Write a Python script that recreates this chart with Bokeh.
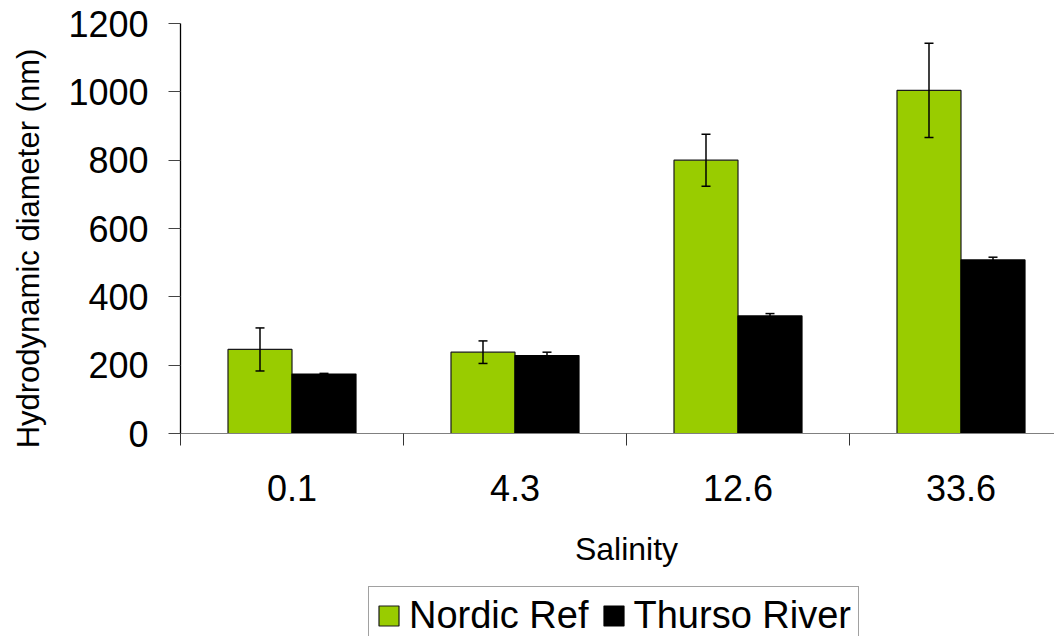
from bokeh.plotting import figure
from bokeh.models import (Range1d, FixedTicker, Legend, LegendItem, Whisker,
                          ColumnDataSource, TeeHead, Label)
from bokeh.embed import file_html
from bokeh.resources import INLINE
import numpy as np

salinity = ["0.1", "4.3", "12.6", "33.6"]
nordic_ref = [246, 238, 800, 1004]
nordic_err = [63, 33, 76, 138]
thurso_river = [174, 228, 344, 508]
thurso_err = [2, 10, 7, 8]
y_ticks = [0, 200, 400, 600, 800, 1000, 1200]

FONT = "Liberation Sans"
GREEN = "#99CC00"

centers = np.arange(len(salinity)) + 0.5
bw = 0.287

# ---- layout (pixels) ----
W, H = 1054, 636
OFF = 0                       # page offset of the canvas
AX_LEFT, AX_TOP, AX_BOTTOM = 180, 23, 433   # page px of plot area
CAT_PX = 223                  # pixels per category
Y_MAX = 1200
py = (AX_BOTTOM - AX_TOP) / Y_MAX            # px per data unit

x_start = -(AX_LEFT - OFF) / CAT_PX
x_end = x_start + W / CAT_PX
y_end = Y_MAX + (AX_TOP - OFF) / py
y_start = -((OFF + H) - AX_BOTTOM) / py

p = figure(width=W, height=H, output_backend="svg", toolbar_location=None,
           x_range=Range1d(x_start, x_end), y_range=Range1d(y_start, y_end),
           min_border_left=0, min_border_right=0, min_border_top=0,
           min_border_bottom=0)
p.outline_line_color = None
p.xgrid.visible = False
p.ygrid.visible = False
p.background_fill_color = "white"
p.border_fill_color = "white"

src_n = ColumnDataSource(dict(x=centers - bw / 2, top=nordic_ref,
                              upper=np.array(nordic_ref) + np.array(nordic_err),
                              lower=np.array(nordic_ref) - np.array(nordic_err)))
src_t = ColumnDataSource(dict(x=centers + bw / 2, top=thurso_river,
                              upper=np.array(thurso_river) + np.array(thurso_err),
                              lower=np.array(thurso_river) - np.array(thurso_err)))

r_n = p.vbar(x="x", top="top", bottom=0, width=bw, source=src_n,
             fill_color=GREEN, line_color="#1a1a1a", line_width=1.2)
r_t = p.vbar(x="x", top="top", bottom=0, width=bw, source=src_t,
             fill_color="black", line_color="black", line_width=1.2)

for src in (src_n, src_t):
    w = Whisker(source=src, base="x", upper="upper", lower="lower",
                line_color="black", line_width=1.5, level="annotation",
                upper_head=TeeHead(size=9, line_width=1.5, line_color="black"),
                lower_head=TeeHead(size=9, line_width=1.5, line_color="black"))
    p.add_layout(w)

# x axis (drawn at y = 0)
xa = p.xaxis[0]
xa.fixed_location = 0
xa.bounds = (0, x_end)
xa.ticker = FixedTicker(ticks=list(centers),
                        minor_ticks=list(np.arange(len(salinity) + 1)))
xa.major_label_overrides = {float(c): s for c, s in zip(centers, salinity)}
xa.major_tick_out = 0
xa.major_tick_in = 0
xa.minor_tick_out = 12
xa.minor_tick_in = 0
xa.minor_tick_line_color = "#333333"
xa.axis_line_color = "#808080"
xa.axis_line_width = 1.2
xa.major_label_text_font = FONT
xa.major_label_text_font_size = "36px"
xa.major_label_text_color = "black"
xa.major_label_standoff = 29

# y axis (drawn at x = 0)
ya = p.yaxis[0]
ya.fixed_location = 0
ya.bounds = (0, Y_MAX)
ya.ticker = FixedTicker(ticks=y_ticks, minor_ticks=[])
ya.major_tick_out = 12
ya.major_tick_in = 0
ya.major_tick_line_color = "#444444"
ya.axis_line_color = "black"
ya.axis_line_width = 1.3
ya.major_label_text_font = FONT
ya.major_label_text_font_size = "36px"
ya.major_label_text_color = "black"
ya.major_label_standoff = 20

# axis titles
x_title_y = -(548 - AX_BOTTOM) / py
p.add_layout(Label(x=len(salinity) / 2, y=x_title_y, text="Salinity",
                   text_font=FONT, text_font_size="32px", text_color="black",
                   text_align="center", text_baseline="middle"))
y_title_x = -(AX_LEFT - 28) / CAT_PX
y_title_y = (AX_BOTTOM - 248) / py
p.add_layout(Label(x=y_title_x, y=y_title_y, text="Hydrodynamic diameter (nm)",
                   angle=np.pi / 2, text_font=FONT, text_font_size="31px",
                   text_color="black", text_align="center",
                   text_baseline="middle"))

legend = Legend(items=[LegendItem(label="Nordic Ref", renderers=[r_n]),
                       LegendItem(label="Thurso River", renderers=[r_t])],
                orientation="horizontal", location=(368 - OFF, -9),
                label_text_font=FONT, label_text_font_size="38px",
                label_text_color="black",
                glyph_width=25, glyph_height=25, label_standoff=8,
                spacing=12, padding=7, margin=0,
                border_line_color="#444444", border_line_width=1,
                background_fill_color="white", background_fill_alpha=1)
p.add_layout(legend, "center")

open("out.html", "w").write(file_html(p, INLINE))
